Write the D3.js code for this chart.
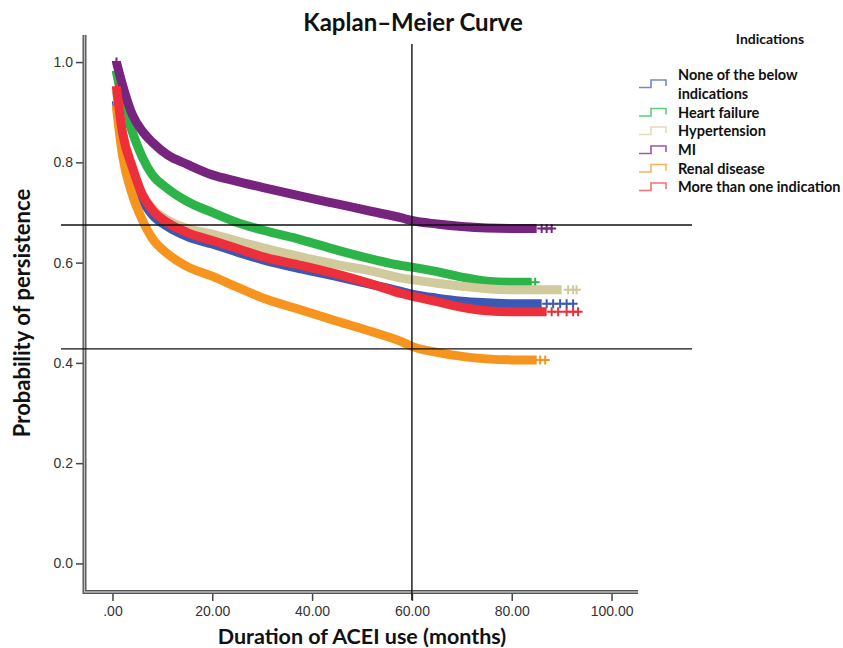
<!DOCTYPE html>
<html>
<head>
<meta charset="utf-8">
<script src="https://cdn.jsdelivr.net/npm/d3@7"></script>
<style>
  body { margin: 0; background: #fff; }
  svg { display: block; }
  .tick-label { font-family: "Liberation Sans", Arial, sans-serif; font-size: 14px; fill: #333; }
  .bold { font-family: Lato, "Open Sans", sans-serif; font-weight: bold; fill: #111; }
</style>
</head>
<body>
<div id="chart"></div>
<script>
'use strict';

var months = [0.8, 2, 4, 6, 8, 11, 15, 20, 25, 30, 38, 45, 52, 58, 60, 65, 70, 75, 80];

var seriesNames = ['None of the below indications', 'Heart failure', 'Hypertension',
                   'MI', 'Renal disease', 'More than one indication'];

var noneVals   = [0.92, 0.85, 0.78, 0.725, 0.695, 0.672, 0.652, 0.637, 0.621, 0.606, 0.587, 0.572, 0.556, 0.542, 0.537, 0.529, 0.523, 0.520, 0.518];
var hfVals     = [0.98, 0.925, 0.86, 0.81, 0.775, 0.748, 0.722, 0.700, 0.680, 0.665, 0.645, 0.625, 0.607, 0.594, 0.591, 0.582, 0.571, 0.563, 0.561];
var htnVals    = [0.94, 0.86, 0.79, 0.737, 0.708, 0.685, 0.668, 0.657, 0.643, 0.630, 0.611, 0.596, 0.583, 0.569, 0.566, 0.559, 0.553, 0.548, 0.546];
var miVals     = [1.00, 0.955, 0.895, 0.862, 0.840, 0.815, 0.796, 0.775, 0.762, 0.750, 0.732, 0.717, 0.702, 0.689, 0.684, 0.677, 0.672, 0.669, 0.668];
var renalVals  = [0.91, 0.815, 0.735, 0.685, 0.648, 0.618, 0.592, 0.573, 0.551, 0.530, 0.505, 0.483, 0.462, 0.442, 0.433, 0.421, 0.413, 0.408, 0.406];
var multiVals  = [0.95, 0.86, 0.79, 0.735, 0.705, 0.680, 0.660, 0.644, 0.628, 0.612, 0.594, 0.577, 0.557, 0.538, 0.533, 0.522, 0.511, 0.504, 0.502];

// last month of the dense band, then the separate censor crosses after it
var endMonths = [86, 84, 90, 85, 85, 87];
var tailMarks = [
  [87, 88.3, 89.7, 91, 92.3],
  [84.7],
  [91.3, 92.3, 93],
  [86, 87, 88],
  [85.7, 86.7],
  [88, 89.3, 91, 92.3, 93.3]
];

var colors      = ['#3b58b6', '#2db449', '#d0ca9c', '#77247f', '#f7941d', '#ec2f3a'];
var legendColor = ['#7489d4', '#5ccf78', '#e0ddbb', '#9b58b0', '#f9b262', '#f27272'];

var xTicks = [0, 20, 40, 60, 80, 100];
var yTicks = [0, 0.2, 0.4, 0.6, 0.8, 1.0];

// reference lines drawn over the plot
var refMonth = 60;
var refProbs = [0.675, 0.428];

var allVals = [noneVals, hfVals, htnVals, miVals, renalVals, multiVals];

var width = 843, height = 648;

var svg = d3.select('#chart').append('svg')
    .attr('width', width)
    .attr('height', height);

var x = d3.scaleLinear().domain([-5.3, 105.3]).range([86, 638]);
var y = d3.scaleLinear().domain([-0.055, 1.054]).range([591, 35]);

// axes
var yAxis = d3.axisLeft(y).tickValues(yTicks).tickSize(7).tickPadding(3)
    .tickFormat(d3.format('.1f'));
var xAxis = d3.axisBottom(x).tickValues(xTicks).tickSize(8).tickPadding(5)
    .tickFormat(function(d) { return d === 0 ? '.00' : d3.format('.2f')(d); });

var gy = svg.append('g').attr('transform', 'translate(83,0)').call(yAxis);
var gx = svg.append('g').attr('transform', 'translate(0,593)').call(xAxis);

[gy, gx].forEach(function(g) {
  g.select('.domain').remove();
  g.selectAll('.tick line').attr('stroke', '#444').attr('stroke-width', 1.5);
  g.selectAll('.tick text').attr('class', 'tick-label');
});

// double axis lines
var frame = svg.append('g');
frame.append('path')
    .attr('d', 'M84.5,35 V592 H638')
    .attr('fill', 'none').attr('stroke', '#555').attr('stroke-width', 4);
frame.append('path')
    .attr('d', 'M84.5,35 V592 H638')
    .attr('fill', 'none').attr('stroke', '#bbb').attr('stroke-width', 1.3);

// curves
var line = d3.line()
    .x(function(d) { return x(d[0]); })
    .y(function(d) { return y(d[1]); })
    .curve(d3.curveMonotoneX);

allVals.forEach(function(vals, i) {
  var pts = months.map(function(m, j) { return [m, vals[j]]; });
  var last = vals[vals.length - 1];
  pts.push([endMonths[i], last]);

  var g = svg.append('g');

  g.append('path')
      .datum(pts)
      .attr('d', line)
      .attr('fill', 'none')
      .attr('stroke', colors[i])
      .attr('stroke-width', 9)
      .attr('stroke-linejoin', 'round');

  // censor crosses: first point and tail
  var marks = [[months[0], vals[0]]].concat(tailMarks[i].map(function(m) { return [m, last]; }));
  g.selectAll('path.mark')
      .data(marks)
      .enter().append('path')
      .attr('class', 'mark')
      .attr('d', 'M-4.5,0H4.5M0,-4.5V4.5')
      .attr('transform', function(d) { return 'translate(' + x(d[0]) + ',' + y(d[1]) + ')'; })
      .attr('stroke', colors[i])
      .attr('stroke-width', 2)
      .attr('fill', 'none');
});

// reference lines
var refs = svg.append('g').attr('stroke', '#111').attr('stroke-width', 1.4);
refs.selectAll('line.h')
    .data(refProbs)
    .enter().append('line')
    .attr('x1', 61).attr('x2', 692)
    .attr('y1', function(d) { return y(d); })
    .attr('y2', function(d) { return y(d); });
refs.append('line')
    .attr('x1', x(refMonth)).attr('x2', x(refMonth))
    .attr('y1', 44).attr('y2', 600);

// titles
svg.append('text')
    .attr('class', 'bold')
    .attr('x', 413).attr('y', 31)
    .attr('text-anchor', 'middle')
    .style('font-size', '24px')
    .text('Kaplan\u2013Meier Curve');

svg.append('text')
    .attr('class', 'bold')
    .attr('transform', 'translate(30,313) rotate(-90)')
    .attr('text-anchor', 'middle')
    .style('font-size', '22px')
    .text('Probability of persistence');

svg.append('text')
    .attr('class', 'bold')
    .attr('x', 362).attr('y', 643.5)
    .attr('text-anchor', 'middle')
    .style('font-size', '21.5px')
    .text('Duration of ACEI use (months)');

// legend
var legend = svg.append('g');
legend.append('text')
    .attr('class', 'bold')
    .attr('x', 770).attr('y', 43.5)
    .attr('text-anchor', 'middle')
    .style('font-size', '14px')
    .text('Indications');

var rowY = [84, 112.5, 131, 150, 168.5, 187];

seriesNames.forEach(function(name, i) {
  var cy = rowY[i];
  legend.append('path')
      .attr('d', 'M639,' + (cy + 3.5) + 'H651V' + (cy - 4) + 'H666V' + (cy + 2))
      .attr('fill', 'none')
      .attr('stroke', legendColor[i])
      .attr('stroke-width', 1.6);
  var t = legend.append('text')
      .attr('class', 'bold')
      .attr('x', 678)
      .style('font-size', '14.5px');
  if (i === 0) {
    t.append('tspan').attr('x', 678).attr('y', cy - 4).text('None of the below');
    t.append('tspan').attr('x', 678).attr('y', cy + 14.5).text('indications');
  } else {
    t.attr('y', cy + 5).text(name);
  }
});
</script>
</body>
</html>
